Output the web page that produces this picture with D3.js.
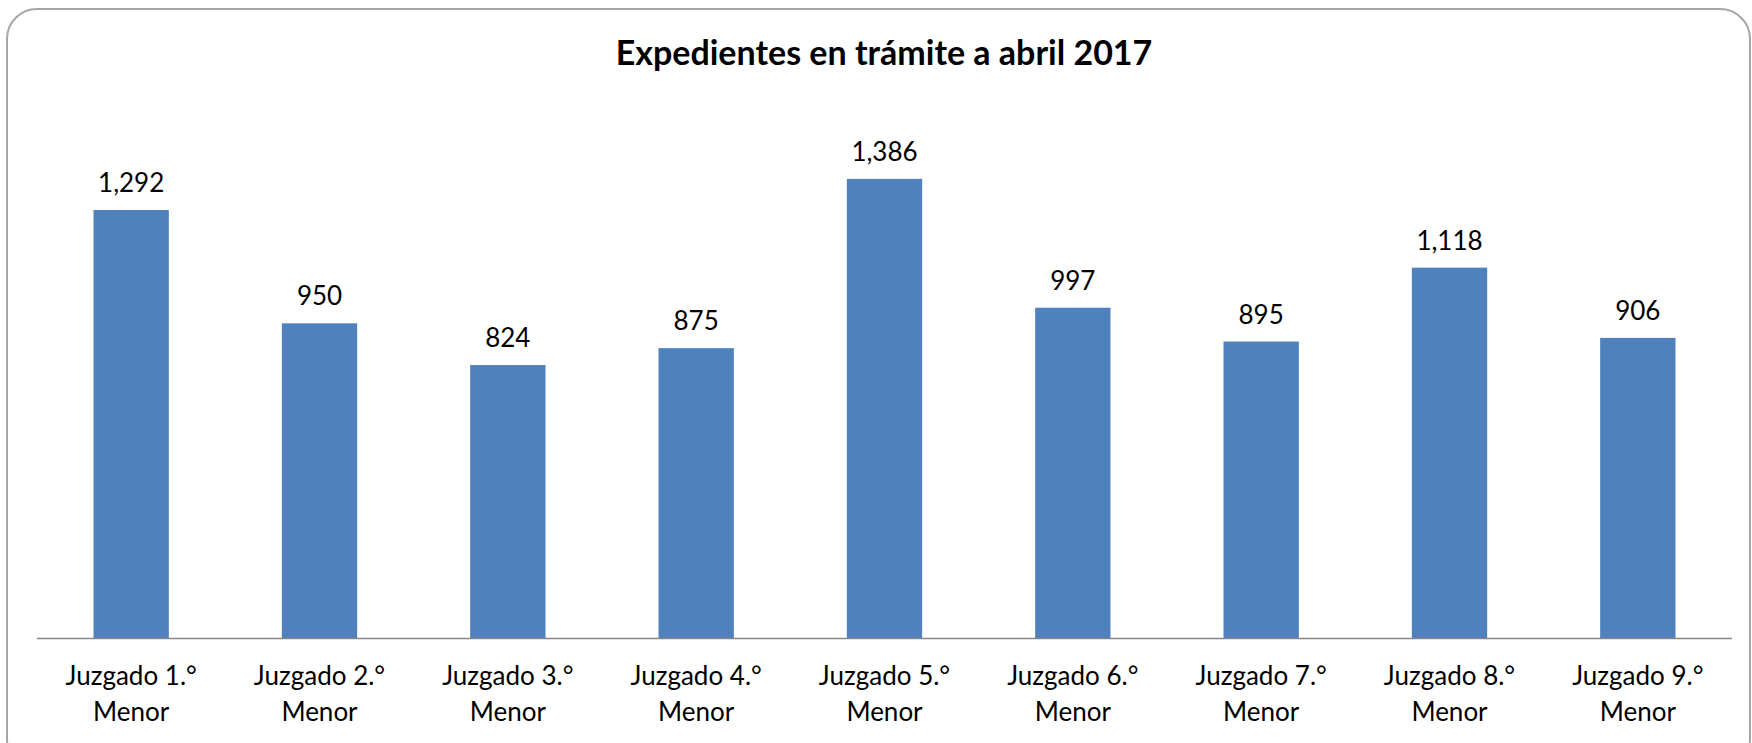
<!DOCTYPE html>
<html>
<head>
<meta charset="utf-8">
<script src="https://cdn.jsdelivr.net/npm/d3@7"></script>
<style>
  body { margin: 0; background: #fff; }
  text { font-family: Lato, "Open Sans", sans-serif; fill: #000; }
</style>
</head>
<body>
<div id="chart"></div>
<script>
// data
const juzgados = ["Juzgado 1.°", "Juzgado 2.°", "Juzgado 3.°", "Juzgado 4.°", "Juzgado 5.°",
                  "Juzgado 6.°", "Juzgado 7.°", "Juzgado 8.°", "Juzgado 9.°"];
const expedientes = [1292, 950, 824, 875, 1386, 997, 895, 1118, 906];
const yMax = 1600;

const W = 1752, H = 743;
const plot = { left: 37, right: 1732, top: 108, bottom: 638 };

const svg = d3.select("#chart")
    .append("svg")
    .attr("width", W)
    .attr("height", H);

// outer rounded frame
svg.append("rect")
    .attr("x", 7)
    .attr("y", 9)
    .attr("width", 1743)
    .attr("height", 760)
    .attr("rx", 30)
    .attr("ry", 30)
    .style("fill", "#fff")
    .style("stroke", "#a6a6a6")
    .style("stroke-width", 2);

// title
svg.append("text")
    .attr("x", 884)
    .attr("y", 65)
    .attr("text-anchor", "middle")
    .style("font-size", "34px")
    .style("font-weight", "bold")
    .text("Expedientes en trámite a abril 2017");

// scales
const x = d3.scaleBand()
    .domain(juzgados)
    .range([plot.left, plot.right])
    .paddingInner(0.6)
    .paddingOuter(0.3);

const y = d3.scaleLinear()
    .domain([0, yMax])
    .range([plot.bottom, plot.top]);

const data = juzgados.map((j, i) => ({ name: j, value: expedientes[i] }));

// bars
svg.selectAll(".bar")
    .data(data)
    .enter().append("rect")
    .attr("class", "bar")
    .attr("x", d => x(d.name))
    .attr("y", d => y(d.value))
    .attr("width", x.bandwidth())
    .attr("height", d => y(0) - y(d.value))
    .style("fill", "#4f81bd");

// value labels
svg.selectAll(".label")
    .data(data)
    .enter().append("text")
    .attr("class", "label")
    .attr("x", d => x(d.name) + x.bandwidth() / 2)
    .attr("y", d => y(d.value) - 18)
    .attr("text-anchor", "middle")
    .style("font-size", "26px")
    .text(d => d3.format(",")(d.value));

// x axis line
svg.append("line")
    .attr("x1", plot.left)
    .attr("x2", plot.right)
    .attr("y1", y(0) + 0.5)
    .attr("y2", y(0) + 0.5)
    .style("stroke", "#868686")
    .style("stroke-width", 1.5);

// category labels, two lines
const cat = svg.selectAll(".cat")
    .data(data)
    .enter().append("text")
    .attr("class", "cat")
    .attr("text-anchor", "middle")
    .style("font-size", "26px");

cat.append("tspan")
    .attr("x", d => x(d.name) + x.bandwidth() / 2)
    .attr("y", 685)
    .text(d => d.name);

cat.append("tspan")
    .attr("x", d => x(d.name) + x.bandwidth() / 2)
    .attr("y", 721)
    .text("Menor");
</script>
</body>
</html>
